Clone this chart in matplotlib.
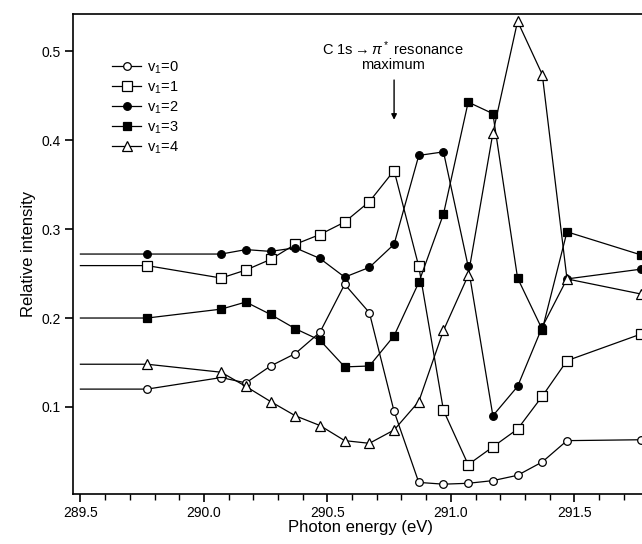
import matplotlib
matplotlib.use('Agg')
import matplotlib.pyplot as plt
from matplotlib.ticker import MultipleLocator

plt.rcParams['font.family'] = ['Liberation Sans', 'DejaVu Sans']
plt.rcParams['mathtext.fontset'] = 'custom'
plt.rcParams['mathtext.rm'] = 'Liberation Sans'
plt.rcParams['mathtext.it'] = 'Liberation Sans:italic'

# photon energy (eV); first point only carries the flat line, no marker
energy = [289.5, 289.77, 290.07, 290.17, 290.27, 290.37, 290.47, 290.57, 290.67,
          290.77, 290.87, 290.97, 291.07, 291.17, 291.27, 291.37, 291.47, 291.77]

v0 = [0.120, 0.120, 0.133, 0.127, 0.146, 0.160, 0.184, 0.238, 0.206,
      0.095, 0.015, 0.013, 0.014, 0.017, 0.023, 0.038, 0.062, 0.063]
v1 = [0.259, 0.259, 0.245, 0.254, 0.266, 0.283, 0.294, 0.308, 0.331,
      0.366, 0.258, 0.096, 0.035, 0.055, 0.075, 0.112, 0.152, 0.182]
v2 = [0.272, 0.272, 0.272, 0.277, 0.275, 0.279, 0.267, 0.246, 0.257,
      0.283, 0.383, 0.387, 0.258, 0.090, 0.123, 0.190, 0.244, 0.255]
v3 = [0.200, 0.200, 0.210, 0.218, 0.204, 0.188, 0.175, 0.145, 0.146,
      0.180, 0.240, 0.317, 0.443, 0.430, 0.245, 0.187, 0.297, 0.271]
v4 = [0.148, 0.148, 0.139, 0.123, 0.106, 0.090, 0.079, 0.062, 0.059,
      0.074, 0.106, 0.186, 0.248, 0.408, 0.534, 0.474, 0.244, 0.227]

labels = ['v$_1$=0', 'v$_1$=1', 'v$_1$=2', 'v$_1$=3', 'v$_1$=4']

fig = plt.figure(figsize=(6.42, 5.44), dpi=100)
ax = fig.add_axes([0.1137, 0.092, 0.8964, 0.882])

styles = [('o', 'white', 5.5), ('s', 'white', 6.5), ('o', 'black', 5.5),
          ('s', 'black', 6.0), ('^', 'white', 6.5)]
for series, label, (mk, face, size) in zip([v0, v1, v2, v3, v4], labels, styles):
    ax.plot(energy, series, color='black', lw=0.9, marker=mk, mfc=face, mec='black',
            mew=0.9, ms=size, markevery=slice(1, None), label=label, clip_on=False)

ax.set_xlim(289.47, 291.8)
ax.set_ylim(0.002, 0.542)
ax.xaxis.set_major_locator(MultipleLocator(0.5))
ax.xaxis.set_minor_locator(MultipleLocator(0.1))
ax.yaxis.set_major_locator(MultipleLocator(0.1))
ax.xaxis.set_major_formatter(plt.FormatStrFormatter('%.1f'))
ax.tick_params(which='major', direction='out', length=6, width=1.2, labelsize=10, pad=3)
ax.tick_params(which='minor', direction='out', length=4, width=1)
for side in ['left', 'bottom', 'top', 'right']:
    ax.spines[side].set_linewidth(1.2)

ax.set_xlabel('Photon energy (eV)', fontsize=12, labelpad=0)
ax.set_ylabel('Relative intensity', fontsize=12, labelpad=4)

ax.text(290.765, 0.4955, 'C 1s$\\rightarrow\\pi^*$ resonance\nmaximum', ha='center',
        va='center', fontsize=10.5, linespacing=1.0)
ax.annotate('', xy=(290.77, 0.420), xytext=(290.77, 0.471),
            arrowprops=dict(arrowstyle='-|>', color='black', lw=1, mutation_scale=8))

ax.legend(loc='upper left', bbox_to_anchor=(0.068, 0.906), frameon=False, fontsize=10.5,
          handlelength=2.0, labelspacing=0.25, handletextpad=0.4,
          borderpad=0, borderaxespad=0)

fig.savefig('out.png', dpi=100)
